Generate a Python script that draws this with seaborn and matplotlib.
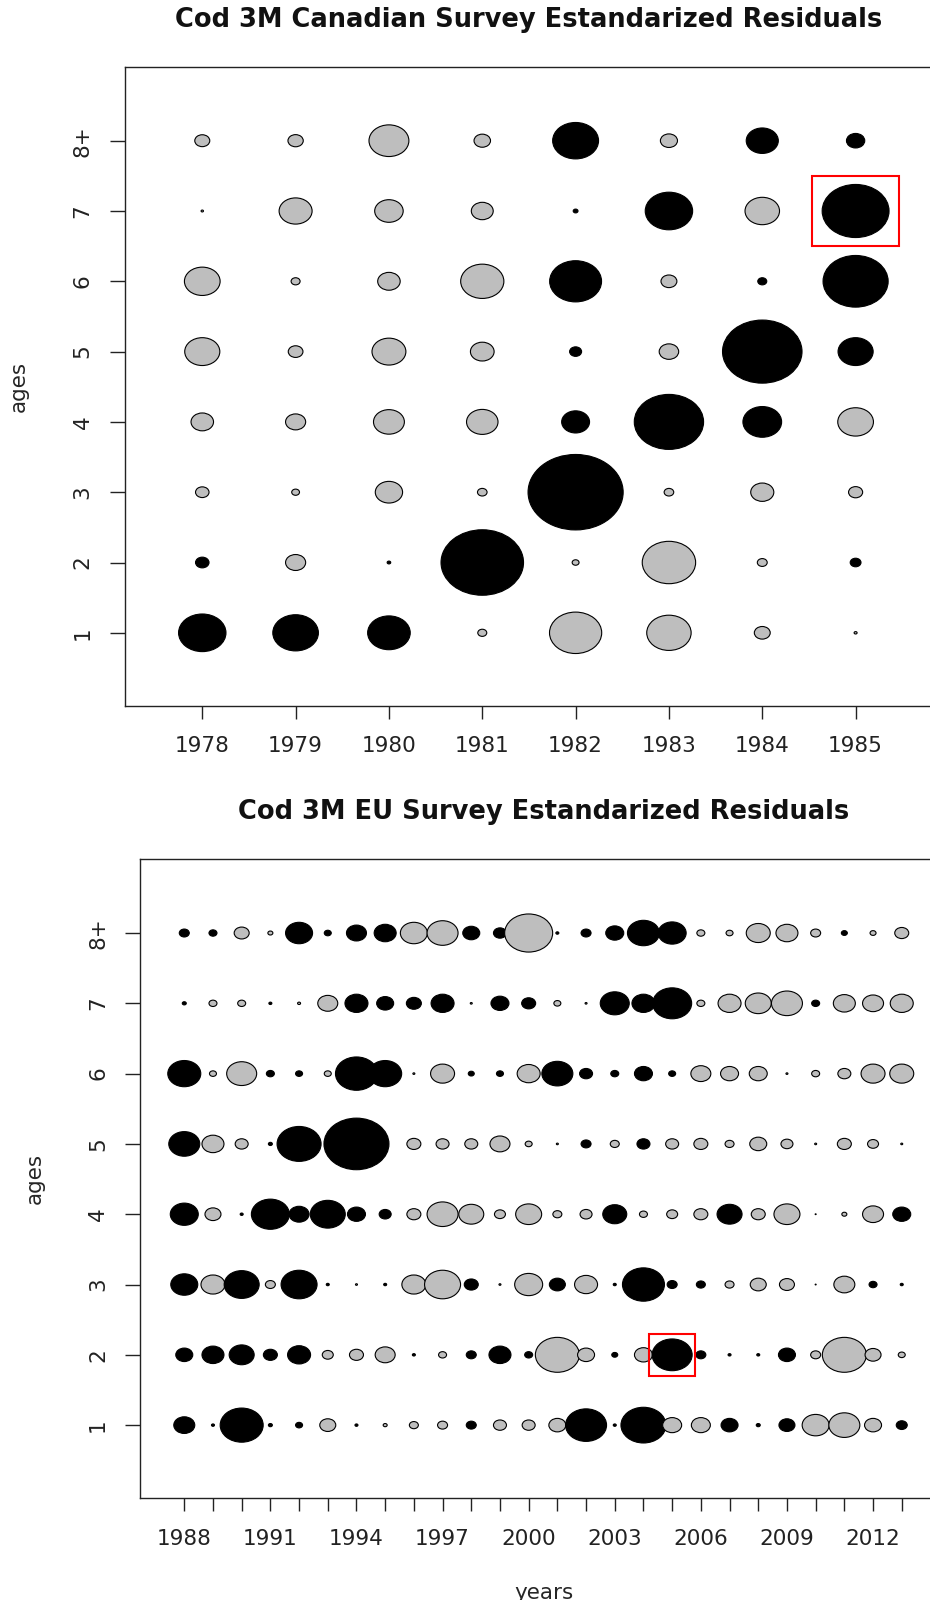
"""Bubble plots of standardized survey residuals for 3M cod (Canadian and EU surveys)."""

import matplotlib
matplotlib.use("Agg")
import matplotlib.pyplot as plt
import numpy as np
import pandas as pd
import seaborn as sns
from matplotlib.path import Path
from matplotlib.patches import Rectangle

DPI = 100

AGE_LABELS = ["1", "2", "3", "4", "5", "6", "7", "8+"]

# ---- Canadian survey, 1978-1985 (rows = ages 1..8+) ------------------------
CAN_YEARS = list(range(1978, 1986))
CAN_AGE1 = [1.58, 1.52, 1.42, -0.30, -1.74, -1.48, -0.53, -0.10]
CAN_AGE2 = [0.45, -0.67, 0.12, 2.75, -0.23, -1.78, -0.33, 0.36]
CAN_AGE3 = [-0.45, -0.26, -0.91, -0.32, 3.17, -0.32, -0.77, -0.47]
CAN_AGE4 = [-0.75, -0.67, -1.03, -1.05, 0.93, 2.31, 1.29, -1.19]
CAN_AGE5 = [-1.17, -0.49, -1.13, -0.79, 0.40, -0.65, 2.65, 1.17]
CAN_AGE6 = [-1.19, -0.30, -0.75, -1.44, 1.73, -0.53, 0.30, 2.17]
CAN_AGE7 = [-0.08, -1.10, -0.95, -0.73, 0.16, 1.58, -1.15, 2.23]
CAN_AGE8 = [-0.50, -0.51, -1.33, -0.55, 1.53, -0.57, 1.07, 0.61]
CAN_RESID = [CAN_AGE1, CAN_AGE2, CAN_AGE3, CAN_AGE4,
             CAN_AGE5, CAN_AGE6, CAN_AGE7, CAN_AGE8]
CAN_HIGHLIGHT = (1985, 7)

# ---- EU survey, 1988-2013 ---------------------------------------------------
EU_YEARS = list(range(1988, 2014))
EU_AGE1 = [1.05, 0.15, 2.15, 0.2, 0.35, -0.8, 0.15, -0.2, -0.45, -0.5,
           0.5, -0.65, -0.65, -0.85, 2.05, 0.15, 2.25, -0.95, -0.95, 0.85,
           0.2, 0.8, -1.35, -1.55, -0.85, 0.55]
EU_AGE2 = [0.85, 1.1, 1.25, 0.7, 1.15, -0.55, -0.7, -1.0, 0.15, -0.4,
           0.5, 1.1, 0.4, -2.2, -0.85, 0.3, -0.9, 2.0, 0.5, 0.15,
           0.15, 0.85, -0.5, -2.2, -0.8, -0.35]
EU_AGE3 = [1.35, -1.2, 1.75, -0.5, 1.8, 0.15, -0.1, 0.15, -1.2, -1.8,
           0.7, -0.1, -1.4, 0.8, -1.15, 0.15, 2.1, 0.5, 0.45, -0.45,
           -0.8, -0.75, -0.05, -1.05, 0.4, 0.15]
EU_AGE4 = [1.4, -0.8, 0.15, 1.9, 1.0, 1.75, 0.9, 0.6, -0.7, -1.55,
           -1.25, -0.55, -1.3, -0.45, -0.6, 1.2, -0.4, -0.55, -0.7, 1.25,
           -0.7, -1.3, -0.05, -0.25, -1.05, 0.9]
EU_AGE5 = [1.55, -1.1, -0.65, 0.2, 2.2, 0.05, 3.25, 0.05, -0.7, -0.65,
           -0.65, -1.0, -0.35, -0.1, 0.5, -0.45, 0.65, -0.65, -0.7, -0.45,
           -0.85, -0.6, -0.1, -0.7, -0.55, -0.1]
EU_AGE6 = [1.65, -0.35, -1.5, 0.4, 0.35, -0.35, 2.1, 1.65, -0.1, -1.2,
           0.3, 0.35, -1.15, 1.55, 0.65, 0.4, 0.9, 0.35, -1.0, -0.9,
           -0.9, -0.1, -0.4, -0.65, -1.2, -1.2]
EU_AGE7 = [0.2, -0.4, -0.4, 0.15, -0.15, -1.0, 1.15, 0.85, 0.75, 1.15,
           -0.1, 0.9, 0.7, -0.35, -0.1, 1.45, 1.15, 1.95, -0.4, -1.15,
           -1.3, -1.55, 0.4, -1.1, -1.05, -1.15]
EU_AGE8 = [0.5, 0.4, -0.75, -0.25, 1.35, 0.35, 1.0, 1.1, -1.35, -1.55,
           0.85, 0.65, -2.4, 0.15, 0.5, 0.9, 1.6, 1.4, -0.4, -0.35,
           -1.2, -1.1, -0.5, 0.3, -0.3, -0.7]
EU_RESID = [EU_AGE1, EU_AGE2, EU_AGE3, EU_AGE4,
            EU_AGE5, EU_AGE6, EU_AGE7, EU_AGE8]
EU_HIGHLIGHT = (2005, 2)
EU_LABEL_YEARS = list(range(1988, 2014, 3))

PALETTE = {"pos": "black", "neg": "#bebebe"}

# the original picture is stretched sideways, so bubbles are ellipses
_circle = Path.unit_circle()
ELLIPSE = Path(_circle.vertices * np.array([1.26, 1.0]), _circle.codes)

FONT_TICK = 15.5
FONT_TITLE = 18.5


def to_long(years, resid):
    rows = []
    for i, values in enumerate(resid):
        for year, r in zip(years, values):
            rows.append({
                "year": year, "age": i + 1, "resid": r,
                "sign": "pos" if r >= 0 else "neg", "area": r * r,
            })
    return pd.DataFrame(rows)


def bubble_panel(ax, years, resid, px_per_unit, xlim, title,
                 highlight, box_half, label_years=None, xlabel=None):
    df = to_long(years, resid)
    rmax = 4.0
    smax = (rmax * px_per_unit * 72 / DPI) ** 2
    sns.scatterplot(
        data=df, x="year", y="age", hue="sign", palette=PALETTE,
        size="area", sizes=(0, smax), size_norm=(0, rmax ** 2),
        marker=ELLIPSE, edgecolor="black", linewidth=0.8,
        legend=False, ax=ax,
    )

    hx, hy = highlight
    bw, bh = box_half
    ax.add_patch(Rectangle((hx - bw, hy - bh), 2 * bw, 2 * bh,
                           fill=False, edgecolor="red", linewidth=1.5))

    ax.set_xlim(*xlim)
    ax.set_ylim(-0.04, 9.05)
    ax.set_yticks(range(1, 9))
    ax.set_yticklabels(AGE_LABELS)
    ax.set_xticks(years)
    if label_years is None:
        ax.set_xticklabels([str(y) for y in years])
    else:
        ax.set_xticklabels([str(y) if y in label_years else "" for y in years])

    ax.tick_params(axis="x", direction="out", length=9, width=1,
                   pad=13, labelsize=FONT_TICK, colors="#222222")
    ax.tick_params(axis="y", direction="out", length=11, width=1,
                   pad=12, labelsize=FONT_TICK, colors="#222222",
                   labelrotation=90)
    for lab in ax.get_yticklabels():
        lab.set_va("center")
    for sp in ax.spines.values():
        sp.set_color("#222222")
        sp.set_linewidth(1.0)

    ax.set_ylabel("ages", fontsize=FONT_TICK)
    ax.yaxis.set_label_coords(-0.118, 0.5)
    if xlabel:
        ax.set_xlabel(xlabel, fontsize=FONT_TICK)
        ax.xaxis.set_label_coords(0.5, -0.133)
    else:
        ax.set_xlabel("")
    ax.set_title(title, fontsize=FONT_TITLE, fontweight="bold", pad=29)


def main():
    sns.set_style("ticks")
    plt.rcParams["font.family"] = ["DejaVu Sans"]
    plt.rcParams["text.color"] = "#111111"

    fig = plt.figure(figsize=(930 / DPI, 1600 / DPI), dpi=DPI)
    ax_top = fig.add_axes([0.1339, 0.5588, 0.8694, 0.3994])
    ax_bot = fig.add_axes([0.1505, 0.0636, 0.8688, 0.3994])

    bubble_panel(ax_top, CAN_YEARS, CAN_RESID, 30, (1977.167, 1985.83),
                 "Cod 3M Canadian Survey Estandarized Residuals",
                 CAN_HIGHLIGHT, (0.465, 0.503))
    bubble_panel(ax_bot, EU_YEARS, EU_RESID, 20, (1986.456, 2014.61),
                 "Cod 3M EU Survey Estandarized Residuals",
                 EU_HIGHLIGHT, (0.79, 0.30),
                 label_years=EU_LABEL_YEARS, xlabel="years")

    fig.savefig("out.png", dpi=DPI)
    plt.close(fig)


if __name__ == "__main__":
    main()
